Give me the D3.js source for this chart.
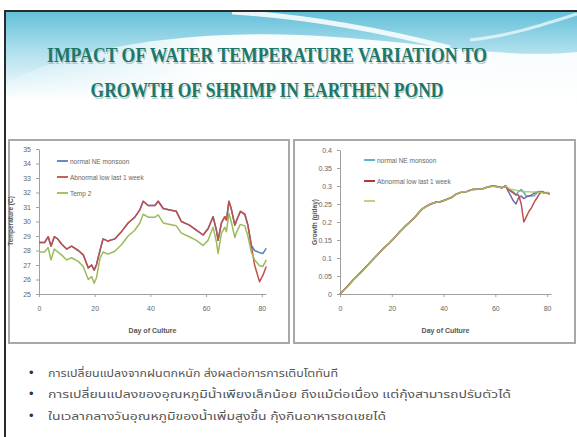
<!DOCTYPE html>
<html><head><meta charset="utf-8">
<script src="https://cdn.jsdelivr.net/npm/d3@7"></script>
<style>body{margin:0;background:#fff;overflow:hidden} svg{display:block}</style>
</head><body><svg id="c" width="577" height="437"></svg>
<script>
// ---------- DATA ----------
const titleLines = ["IMPACT OF WATER TEMPERATURE VARIATION TO", "GROWTH OF SHRIMP IN EARTHEN POND"];
const bulletTexts = [
  "การเปลี่ยนแปลงจากฝนตกหนัก  ส่งผลต่อการการเติบโตทันที",
  "การเปลี่ยนแปลงของอุณหภูมิน้ำเพียงเล็กน้อย ถึงแม้ต่อเนื่อง แต่กุ้งสามารถปรับตัวได้",
  "ในเวลากลางวันอุณหภูมิของน้ำเพิ่มสูงขึ้น กุ้งกินอาหารชดเชยได้"
];
const dayTicks = [0, 20, 40, 60, 80];
const tempTicks = [25, 26, 27, 28, 29, 30, 31, 32, 33, 34, 35];
const tempLegend = ["normal NE monsoon", "Abnormal low last 1 week", "Temp 2"];
const growthTicks = [0, 0.05, 0.1, 0.15, 0.2, 0.25, 0.3, 0.35, 0.4];
const growthLegend = ["normal NE monsoon", "Abnormal low last 1 week", ""];

const tempDays = [0, 2, 3.3, 4.3, 5.5, 6.7, 8.1, 9.9, 11.7, 14.1,
  15.9, 17.7, 18.9, 19.8, 20.6, 21.9, 23, 24.8, 27.2, 29.6,
  32, 34.4, 36.2, 37.4, 39.2, 41.6, 42.8, 44.6, 47, 49.3,
  51.1, 54, 56.5, 58.9, 60.7, 62.5, 63.7, 64.3, 65.5, 66.7,
  67.3, 68.2, 69, 70.3, 71, 72.3, 73.9, 75, 76.2, 77.4,
  79.2, 80.4, 81.6];
const tempNormal = [28.55, 28.55, 28.95, 28.3, 28.95, 28.8, 28.45, 28.1, 28.3, 28.0,
  27.7, 26.8, 27.0, 26.65, 27.0, 28.0, 28.8, 28.65, 28.8, 29.3,
  29.9, 30.3, 30.8, 31.4, 31.1, 31.1, 31.4, 30.9, 30.8, 30.7,
  30.0, 29.75, 29.4, 29.07, 29.5, 30.33, 29.4, 28.7, 29.9, 30.33,
  30.1, 31.4, 30.9, 29.75, 30.1, 30.7, 30.5, 29.75, 28.38, 28.0,
  27.85, 27.8, 28.15];
const tempAbnormal = [28.55, 28.55, 28.95, 28.3, 28.95, 28.8, 28.45, 28.1, 28.3, 28.0,
  27.7, 26.8, 27.0, 26.65, 27.0, 28.0, 28.8, 28.65, 28.8, 29.3,
  29.9, 30.3, 30.8, 31.4, 31.1, 31.1, 31.4, 30.9, 30.8, 30.7,
  30.0, 29.75, 29.4, 29.07, 29.5, 30.33, 29.4, 28.7, 29.9, 30.33,
  30.1, 31.4, 30.9, 29.75, 30.1, 30.7, 30.5, 29.75, 28.38, 27.0,
  25.85, 26.3, 26.9];
const tempTemp2 = [27.9, 27.9, 28.2, 27.35, 28.1, 27.9, 27.7, 27.35, 27.5, 27.25,
  26.9, 26.0, 26.2, 25.75, 26.1, 27.45, 27.9, 27.75, 27.95, 28.4,
  29.0, 29.4, 29.9, 30.5, 30.3, 30.3, 30.45, 29.9, 29.8, 29.7,
  29.2, 28.95, 28.7, 28.35, 28.7, 29.6, 28.6, 27.8, 29.2, 29.6,
  29.3, 30.56, 30.0, 28.9, 29.3, 29.8, 29.7, 29.0, 27.9, 27.35,
  26.95, 26.9, 27.35];

const growthDays = [0, 3, 5, 8, 10, 13, 15, 17, 19, 21,
  23, 25, 27, 28.5, 30, 31.5, 33, 35, 37, 39,
  41, 43, 45, 47, 49, 51, 53, 55, 57, 59,
  61, 62.5, 64, 65, 66, 67, 68, 69, 70, 71,
  72, 73, 74, 75, 76, 77, 78, 79, 80, 81];
const growthNormal = [0, 0.022, 0.038, 0.06, 0.075, 0.098, 0.113, 0.128, 0.141, 0.156,
  0.172, 0.187, 0.2, 0.21, 0.222, 0.235, 0.242, 0.25, 0.255, 0.257,
  0.262, 0.268, 0.278, 0.283, 0.285, 0.29, 0.291, 0.292, 0.297, 0.3,
  0.298, 0.295, 0.3, 0.29, 0.288, 0.283, 0.275, 0.285, 0.29, 0.282,
  0.272, 0.272, 0.272, 0.273, 0.28, 0.285, 0.283, 0.28, 0.282, 0.278];
const growthAbnormal = [0, 0.022, 0.038, 0.06, 0.075, 0.098, 0.113, 0.128, 0.141, 0.156,
  0.172, 0.187, 0.2, 0.21, 0.222, 0.235, 0.242, 0.25, 0.255, 0.257,
  0.262, 0.268, 0.278, 0.283, 0.285, 0.29, 0.291, 0.292, 0.297, 0.3,
  0.298, 0.295, 0.3, 0.29, 0.285, 0.28, 0.275, 0.275, 0.25, 0.2,
  0.215, 0.23, 0.24, 0.255, 0.266, 0.278, 0.285, 0.282, 0.28, 0.278];
const growthLow = [0, 0.022, 0.038, 0.06, 0.075, 0.098, 0.113, 0.128, 0.141, 0.156,
  0.172, 0.187, 0.2, 0.21, 0.222, 0.235, 0.242, 0.25, 0.255, 0.257,
  0.262, 0.268, 0.278, 0.283, 0.285, 0.29, 0.291, 0.292, 0.297, 0.3,
  0.298, 0.295, 0.3, 0.285, 0.272, 0.258, 0.25, 0.268, 0.272, 0.265,
  0.27, 0.272, 0.275, 0.28, 0.283, 0.285, 0.283, 0.28, 0.282, 0.278];
const growthTemp2 = [0, 0.021, 0.037, 0.061, 0.074, 0.097, 0.114, 0.127, 0.142, 0.157,
  0.171, 0.188, 0.199, 0.211, 0.221, 0.236, 0.241, 0.251, 0.254, 0.258,
  0.261, 0.269, 0.277, 0.284, 0.284, 0.289, 0.292, 0.291, 0.298, 0.299,
  0.297, 0.296, 0.299, 0.295, 0.29, 0.29, 0.288, 0.287, 0.285, 0.285,
  0.284, 0.284, 0.283, 0.283, 0.283, 0.283, 0.282, 0.28, 0.281, 0.28];

// ---------- DRAW ----------
const svg = d3.select("#c");
const defs = svg.append("defs");
const g1 = defs.append("linearGradient").attr("id","topg").attr("x1",0).attr("y1",0).attr("x2",0).attr("y2",1);
g1.append("stop").attr("offset","0%").attr("stop-color","#62bfd8");
g1.append("stop").attr("offset","45%").attr("stop-color","#b0e0ed");
g1.append("stop").attr("offset","100%").attr("stop-color","#ffffff");
const g2 = defs.append("linearGradient").attr("id","wg").attr("x1",0).attr("y1",0).attr("x2",1).attr("y2",0);
g2.append("stop").attr("offset","0%").attr("stop-color","#fff").attr("stop-opacity",0.15);
g2.append("stop").attr("offset","35%").attr("stop-color","#fff").attr("stop-opacity",0.95);
g2.append("stop").attr("offset","100%").attr("stop-color","#fff").attr("stop-opacity",0.9);

// header swoosh
svg.append("rect").attr("x",5).attr("y",11).attr("width",572).attr("height",90).attr("fill","url(#topg)");
svg.append("path").attr("d","M5,84 C60,52 170,30 300,35 C420,40 500,60 577,52 L577,110 L5,110 Z").attr("fill","url(#wg)");
svg.append("path").attr("d","M232,12 C300,16 380,30 450,48").attr("fill","none").attr("stroke","#fff").attr("stroke-width",5).attr("opacity",0.85);
svg.append("path").attr("d","M470,40 C510,36 545,24 577,14").attr("fill","none").attr("stroke","#e8f6fa").attr("stroke-width",3).attr("opacity",0.8);
svg.append("rect").attr("x",5).attr("y",100).attr("width",572).attr("height",340).attr("fill","#fff");

// slide frame
svg.append("path").attr("d","M5,440 L5,11 L580,11").attr("fill","none").attr("stroke","#2a2a2a").attr("stroke-width",2);

// title
const titleY = [62, 97];
const titleLen = [440, 353];
titleLines.forEach((t,i)=>{
  svg.append("text").attr("x",268).attr("y",titleY[i]+1.5).attr("text-anchor","middle")
    .attr("font-family","Liberation Serif, Times New Roman, serif").attr("font-weight","bold").attr("font-size",21)
    .attr("textLength",titleLen[i]).attr("lengthAdjust","spacingAndGlyphs").attr("fill","#9aaeb0").attr("opacity",0.6).text(t);
  svg.append("text").attr("x",267).attr("y",titleY[i]).attr("text-anchor","middle")
    .attr("font-family","Liberation Serif, Times New Roman, serif").attr("font-weight","bold").attr("font-size",21)
    .attr("textLength",titleLen[i]).attr("lengthAdjust","spacingAndGlyphs").attr("fill","#1b7868").text(t);
});

// chart boxes
[[9,140,280,203],[294,140,281,203]].forEach(b=>{
  svg.append("rect").attr("x",b[0]).attr("y",b[1]).attr("width",b[2]).attr("height",b[3])
    .attr("fill","#fff").attr("stroke","#a8a8a8").attr("stroke-width",2);
});

const tickFont = "Liberation Sans, Arial, sans-serif";
function styleAxis(sel){
  sel.selectAll("path").attr("stroke","#a0a0a0");
  sel.selectAll("line").attr("stroke","#a0a0a0");
  sel.selectAll("text").attr("fill","#666").attr("font-size",7).attr("font-family",tickFont);
}

function chart(opt){
  const x = d3.scaleLinear().domain([0,81.5]).range(opt.xr);
  const y = d3.scaleLinear().domain(opt.yd).range(opt.yr);
  const ya = svg.append("g").attr("transform",`translate(${opt.xr[0]},0)`)
    .call(d3.axisLeft(y).tickValues(opt.yt).tickSize(3).tickSizeOuter(0).tickPadding(5).tickFormat(d=>String(d)));
  styleAxis(ya);
  const xa = svg.append("g").attr("transform",`translate(0,${opt.yr[0]})`)
    .call(d3.axisBottom(x).tickValues(dayTicks).tickSize(3).tickSizeOuter(0).tickPadding(9));
  styleAxis(xa);
  svg.append("text").attr("x",(opt.xr[0]+opt.xr[1])/2).attr("y",opt.yr[0]+39).attr("text-anchor","middle")
    .attr("font-family",tickFont).attr("font-size",7).attr("font-weight","bold").attr("fill","#555").text("Day of Culture");
  svg.append("text").attr("transform",`translate(${opt.ylx},${opt.yly}) rotate(-90)`).attr("text-anchor","middle")
    .attr("font-family",tickFont).attr("font-size",6.5).attr("font-weight","bold").attr("fill","#555").text(opt.ylabel);
  const line = d3.line().x((d,i)=>x(opt.days[i])).y(d=>y(d));
  opt.series.forEach(s=>{
    svg.append("path").datum(s.v).attr("d",line).attr("fill","none").attr("stroke",s.c)
      .attr("stroke-width",1.5).attr("stroke-linejoin","round").attr("opacity",s.o||1);
  });
  opt.legend.forEach((t,i)=>{
    const ly = opt.ly[i];
    svg.append("line").attr("x1",opt.lx).attr("x2",opt.lx+11).attr("y1",ly).attr("y2",ly)
      .attr("stroke",opt.lc[i]).attr("stroke-width",1.8);
    svg.append("text").attr("x",opt.lx+13).attr("y",ly+2.5).attr("font-family",tickFont).attr("font-size",6.5)
      .attr("fill","#666").text(t);
  });
}

chart({
  xr:[39,266], yd:[25,35], yr:[294,149], yt:tempTicks, days:tempDays,
  ylabel:"Temperature (C)", ylx:13, yly:221,
  series:[{v:tempNormal,c:"#4f81bd"},{v:tempAbnormal,c:"#c0504d"},{v:tempTemp2,c:"#9bbb59"}],
  legend:tempLegend, lx:57, ly:[161,177,193], lc:["#4f81bd","#c0504d","#9bbb59"]
});
chart({
  xr:[340,551], yd:[0,0.4], yr:[294,150], yt:growthTicks, days:growthDays,
  ylabel:"Growth (g/day)", ylx:317, yly:222,
  series:[{v:growthNormal,c:"#4bacc6"},{v:growthLow,c:"#8064a2"},{v:growthAbnormal,c:"#c0504d"},{v:growthTemp2,c:"#a8c45e",o:0.85}],
  legend:growthLegend, lx:364, ly:[160,181,201], lc:["#4bacc6","#a0262a","#b8cc70"]
});

// bullets
const bulletY = [377, 398, 420];
const bulletLen = [290, 463, 338];
bulletTexts.forEach((t,i)=>{
  svg.append("text").attr("x",29).attr("y",bulletY[i]).attr("font-size",13).attr("fill","#333")
    .attr("font-family","Liberation Sans, Arial, sans-serif").text("•");
  svg.append("text").attr("x",48).attr("y",bulletY[i]).attr("font-size",11).attr("fill","#555")
    .attr("textLength",bulletLen[i]).attr("lengthAdjust","spacingAndGlyphs")
    .attr("font-family","Noto Sans Thai, Tahoma, Noto Sans, DejaVu Sans, sans-serif").text(t);
});
</script></body></html>
